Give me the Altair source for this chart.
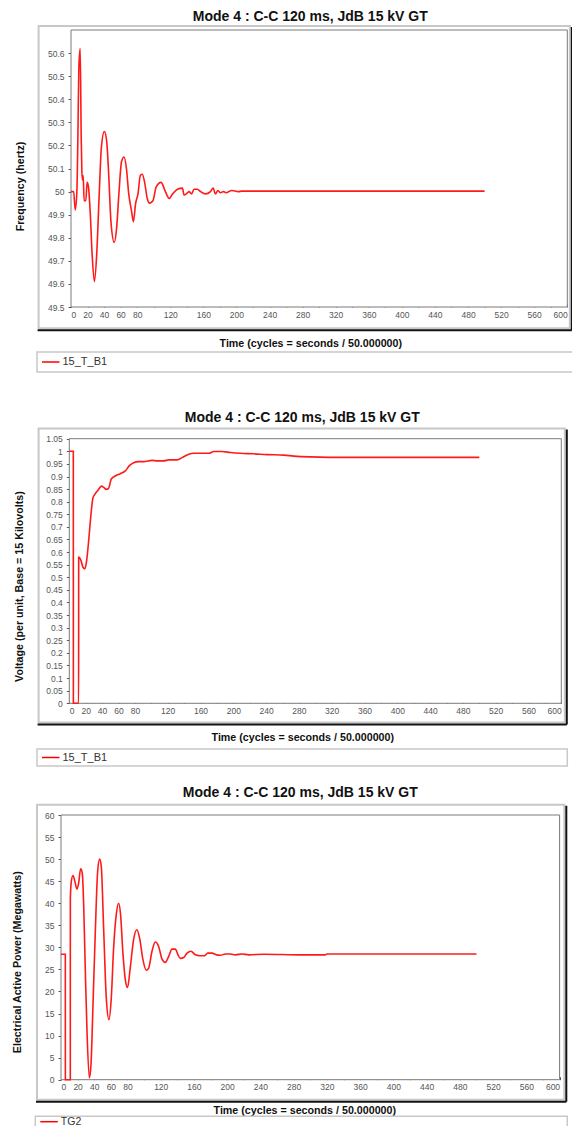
import altair as alt
import pandas as pd

TITLE = "Mode 4 : C-C 120 ms, JdB 15 kV GT"
X_TITLE = "Time (cycles = seconds / 50.000000)"

# ---- data -------------------------------------------------------------
freq_t = [0, 3.2, 5.1, 7.1, 8.3, 9.5, 11.1, 12.3, 13.1, 13.9, 14.7, 15.9, 17.9, 19.5,
          21.1, 23.1, 25.5, 28.3, 31.1, 33.9, 36.7, 40.3, 43.1, 45.5, 48.3, 52.3, 55.1,
          57.9, 61.1, 64.2, 67.0, 69.8, 73.0, 75.4, 78.2, 81.0, 83.8, 86.2, 89.0, 92.2,
          95.0, 99.0, 103.0, 109.0, 113.0, 118.8, 122.8, 128.8, 134.7, 136.7, 139.5,
          142.7, 145.9, 148.7, 152.7, 156.7, 162.6, 168.6, 171.8, 174.6, 177.8, 180.6,
          184.5, 187.3, 194.4, 202.4, 206.4, 500]
freq_v = [50.0, 50.0, 49.92, 50.0, 50.23, 50.54, 50.62, 50.25, 50.09, 50.05, 50.07, 49.96,
          49.96, 50.04, 50.02, 49.92, 49.73, 49.61, 49.73, 49.97, 50.19, 50.26, 50.22,
          50.08, 49.87, 49.78, 49.84, 49.99, 50.13, 50.15, 50.10, 49.99, 49.92, 49.87,
          49.95, 49.99, 50.07, 50.075, 50.04, 49.97, 49.95, 49.96, 50.02, 50.04, 50.01,
          49.97, 49.99, 50.01, 50.015, 49.985, 49.99, 50.0, 49.99, 50.01, 50.01, 50.0,
          49.99, 50.0, 50.015, 49.99, 50.005, 49.995, 50.0, 49.995, 50.005, 50.0, 50.002,
          50.002]

volt_t = [0, 4.9, 4.95, 11.4, 11.45, 13.9, 16.7, 19.1, 21.1, 23.2, 25.6, 28.9, 31.3, 34.9,
          39.4, 42.3, 45.1, 47.9, 51.2, 56.1, 62.2, 68.3, 73.6, 78.5, 84.6, 90.7, 100.9,
          107, 115.2, 121.3, 131.5, 137.6, 145.7, 151.8, 170, 176.2, 186.4, 196.5, 208.7,
          225, 241.3, 261.6, 273.8, 293.9, 338.6, 500]
volt_v = [1.0, 1.0, 0.0, 0.0, 0.58, 0.57, 0.54, 0.534, 0.565, 0.63, 0.72, 0.816, 0.83,
          0.845, 0.862, 0.856, 0.849, 0.853, 0.89, 0.902, 0.911, 0.922, 0.944, 0.955,
          0.959, 0.959, 0.964, 0.962, 0.962, 0.966, 0.966, 0.975, 0.988, 0.992, 0.992,
          0.999, 0.999, 0.995, 0.992, 0.99, 0.987, 0.985, 0.981, 0.978, 0.976, 0.976]

pow_t = [0, 5.2, 5.25, 11.2, 11.25, 12.4, 14.4, 16.8, 19.2, 21.2, 23.6, 25.6, 27.3, 29.3,
         31.3, 34.1, 36.1, 38.5, 41.3, 44.1, 46.5, 48.5, 51.3, 54.5, 57.7, 60.5, 63.3,
         66.5, 69.3, 71.7, 74.5, 77.7, 80.1, 83.3, 87.3, 91.3, 94.6, 98.6, 102.6, 105.5,
         109.5, 113.5, 117.5, 121.5, 125.5, 129.5, 133.6, 137.6, 140.8, 143.6, 147.7,
         151.7, 156.5, 161.7, 166.9, 172.5, 176.6, 181.8, 187.0, 191.8, 197.8, 203.8,
         209.9, 217.9, 225.9, 244.0, 288.0, 318.0, 320.0, 500]
pow_v = [28.45, 28.45, 0, 0, 41.1, 44.9, 46.3, 44.9, 43.2, 44.5, 47.8, 46.8, 39.6, 24.5,
         10.9, 0.4, 3.4, 17.0, 33.6, 47.2, 50.0, 48.3, 34.3, 18.5, 13.6, 18.5, 29.8, 37.4,
         40.0, 37.4, 28.7, 22.3, 20.9, 25.3, 31.7, 34.0, 32.1, 27.2, 24.8, 25.3, 29.1,
         31.2, 30.2, 27.4, 26.6, 27.9, 29.6, 29.6, 28.3, 27.5, 27.7, 28.7, 29.1, 28.3,
         28.1, 28.1, 28.7, 28.7, 28.3, 28.2, 28.5, 28.5, 28.3, 28.5, 28.3, 28.45, 28.3,
         28.3, 28.5, 28.5]

x_ticks = list(range(0, 601, 20))
freq_ticks = [49.5, 49.6, 49.7, 49.8, 49.9, 50.0, 50.1, 50.2, 50.3, 50.4, 50.5, 50.6]
volt_ticks = [0, 0.05, 0.1, 0.15, 0.2, 0.25, 0.3, 0.35, 0.4, 0.45, 0.5, 0.55, 0.6, 0.65,
              0.7, 0.75, 0.8, 0.85, 0.9, 0.95, 1.0, 1.05]
pow_ticks = [0, 5, 10, 15, 20, 25, 30, 35, 40, 45, 50, 55, 60]

FONT = "Liberation Sans"
GX = 70.7  # absolute page x of every panel's group origin


def panel(t, v, series, ytitle, ydom, yticks, yfmt, g):
    gy = g["gy"]

    def rx(a):
        return a - GX

    def ry(a):
        return a - gy

    df = pd.DataFrame({"t": t, "v": v, "i": list(range(len(t)))})
    one = pd.DataFrame({"k": [0]})
    base = alt.Chart(one)

    px0, px1 = g["plot_x"]
    py0, py1 = g["plot_y"]
    xr = [rx(px0), rx(px1)]
    yr = [ry(py1), ry(py0)]
    ax_x = rx(px0)

    fx0, fx1 = g["frame_x"]
    fy0, fy1 = g["frame_y"]
    frame = base.mark_rect(fill="transparent", stroke="#c8c8c8", strokeWidth=2).encode(
        x=alt.value(rx(fx0)), x2=alt.value(rx(fx1)), y=alt.value(ry(fy0)), y2=alt.value(ry(fy1)))
    shadow_b = base.mark_rule(color="#111111", strokeWidth=2).encode(
        x=alt.value(rx(fx0 - 1)), x2=alt.value(rx(fx1 + 2)), y=alt.value(ry(fy1 + 2)))
    shadow_r = base.mark_rule(color="#111111", strokeWidth=2).encode(
        x=alt.value(rx(fx1 + 2)), y=alt.value(ry(fy0 + 1)), y2=alt.value(ry(fy1 + 2)))
    border = base.mark_rect(fill="white", stroke="#7a7a7a", strokeWidth=1).encode(
        x=alt.value(rx(px0)), x2=alt.value(rx(px1)), y=alt.value(ry(py0)), y2=alt.value(ry(py1)))

    lx0, lx1 = g["leg_x"]
    ly0, ly1 = g["leg_y"]
    lyc = g["leg_c"]
    leg_box = base.mark_rect(fill="white", stroke="#c8c8c8", strokeWidth=1.5).encode(
        x=alt.value(rx(lx0)), x2=alt.value(rx(lx1)), y=alt.value(ry(ly0)), y2=alt.value(ry(ly1)))
    leg_line = base.mark_rule(color="#ff0000", strokeWidth=1.5).encode(
        x=alt.value(rx(lx0 + 5)), x2=alt.value(rx(lx0 + 22.5)), y=alt.value(ry(lyc)))
    leg_text = base.mark_text(align="left", baseline="middle", font=FONT,
                              fontSize=g.get("leg_fs", 11), color="#333333").encode(
        x=alt.value(rx(lx0 + 25.5)), y=alt.value(ry(lyc)), text=alt.value(series))

    tx, ty = g["title"]
    title = base.mark_text(align="center", baseline="middle", font=FONT, fontSize=14,
                           fontWeight="bold", color="#111111").encode(
        x=alt.value(rx(tx)), y=alt.value(ry(ty)), text=alt.value(TITLE))

    xtx, xty = g["xtitle"]
    ytx, yty = g["ytitle"]
    line = alt.Chart(df).mark_line(color="#ff1a1a", strokeWidth=1.6,
                                   interpolate="monotone").encode(
        x=alt.X("t:Q", scale=alt.Scale(domain=[0, 600], range=xr, nice=False, zero=False),
                axis=alt.Axis(values=x_ticks,
                              labelExpr="(datum.value <= 80 || datum.value % 40 == 0) ? datum.label : ''",
                              tickSize=3, offset=-3, domain=False, grid=False,
                              labelFontSize=8.5, labelColor="#555555", labelFont=FONT,
                              labelPadding=3, tickColor="#555555",
                              title=X_TITLE, titleX=xtx - GX, titleY=xty - (py1 - 3),
                              titleAlign="center", titleBaseline="middle", titleAngle=0,
                              titleFont=FONT, titleFontSize=10.7, titleFontWeight="bold",
                              titleColor="#111111")),
        y=alt.Y("v:Q", scale=alt.Scale(domain=ydom, range=yr, nice=False, zero=False),
                axis=alt.Axis(values=yticks, format=yfmt, tickSize=3, offset=-ax_x,
                              domain=False, grid=False, labelFontSize=8.5,
                              labelColor="#555555", labelFont=FONT, labelPadding=4,
                              tickColor="#555555",
                              title=ytitle, titleX=ytx - px0, titleY=yty - gy,
                              titleAlign="center", titleBaseline="middle", titleAngle=-90,
                              titleFont=FONT, titleFontSize=10.7, titleFontWeight="bold",
                              titleColor="#111111")),
        order="i:Q",
    )
    return alt.layer(frame, shadow_b, shadow_r, leg_box, leg_line, leg_text, title,
                     border, line).properties(width=g["w"], height=g["h"])


g1 = dict(gy=29, h=277, w=496.3, plot_x=(70.7, 567), plot_y=(29, 306),
          frame_x=(38.3, 569.5), frame_y=(25, 327.3),
          leg_x=(36.7, 575), leg_y=(351, 371), leg_c=361, title=(310, 15.5),
          xtitle=(310, 342), ytitle=(20, 185))
g2 = dict(gy=417, h=285.3, w=490, plot_x=(69, 561), plot_y=(437.7, 702.3),
          frame_x=(38.3, 564.5), frame_y=(427.5, 721.5),
          leg_x=(36.7, 567), leg_y=(748, 765), leg_c=756.5, title=(302, 416.7),
          xtitle=(302, 736), ytitle=(19.3, 585))
g3 = dict(gy=813.3, h=264.7, w=490, plot_x=(60.7, 559.3), plot_y=(813.3, 1078),
          frame_x=(36.7, 564), frame_y=(803, 1098),
          leg_x=(35, 567), leg_y=(1114.5, 1132), leg_c=1120, leg_fs=10.5,
          title=(300, 791.7), xtitle=(304, 1108.5), ytitle=(16.7, 960))

p1 = panel(freq_t, freq_v, "15_T_B1", "Frequency (hertz)", [49.5, 50.7], freq_ticks,
           ".1~f", g1)
p2 = panel(volt_t, volt_v, "15_T_B1", "Voltage (per unit, Base = 15 Kilovolts)",
           [0, 1.05], volt_ticks, ".2~f", g2)
p3 = panel(pow_t, pow_v, "TG2", "Electrical Active Power (Megawatts)", [0, 60], pow_ticks,
           "~g", g3)

chart = alt.vconcat(p1, p2, p3, spacing=111, bounds="flush").properties(
    padding={"left": 3, "top": 1, "right": -5, "bottom": -9.5}
).configure(font=FONT).configure_view(stroke="transparent", strokeWidth=0)

chart.save("out.html", embed_options={"renderer": "svg", "actions": False})
